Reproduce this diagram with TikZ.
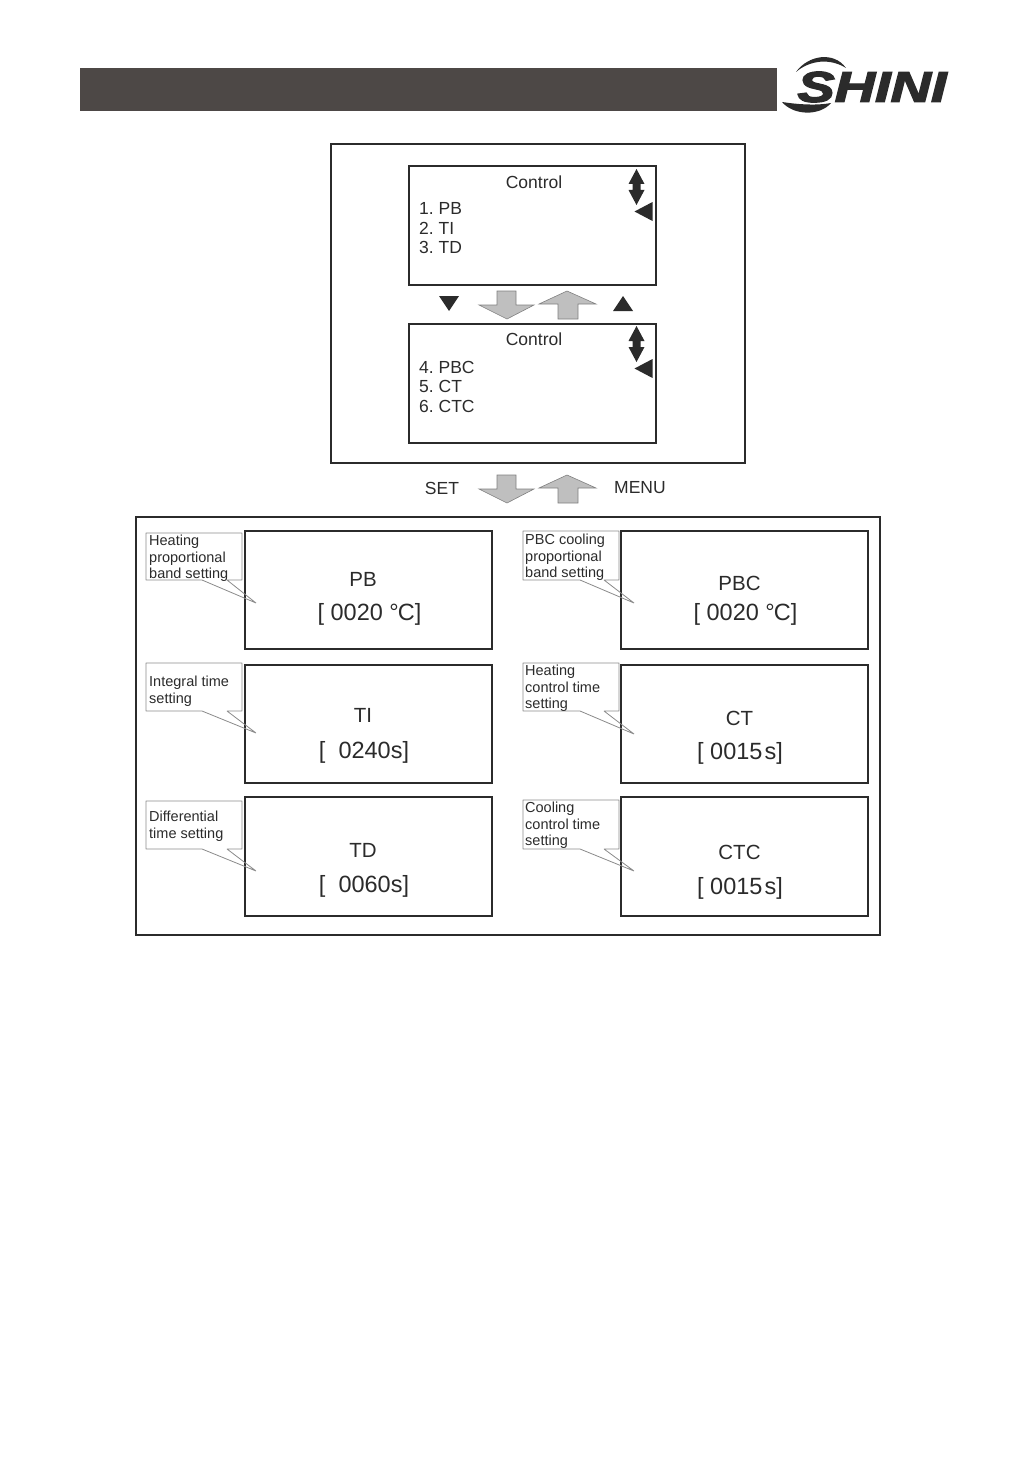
\documentclass[tikz,border=0pt]{standalone}
\usepackage{fontspec}
\setmainfont{Liberation Sans}
\newfontfamily\logofont{Liberation Sans}[UprightFont=* Bold Italic,FakeBold=3]
\frenchspacing
\definecolor{barcol}{HTML}{4D4846}
\definecolor{inkcol}{HTML}{2B2B2B}
\definecolor{arrowcol}{HTML}{BFBFBF}
\definecolor{calloutcol}{HTML}{8A8A8A}
\tikzset{
  frame/.style={draw=inkcol,line width=1.5pt},
  panel/.style={draw=inkcol,line width=1.3pt,fill=none},
  scrtext/.style={inner sep=0pt,text=inkcol,font=\fontsize{17.5}{19.5}\selectfont},
  bigtext/.style={inner sep=0pt,text=inkcol,font=\fontsize{20.5}{24}\selectfont},
  valtext/.style={inner sep=0pt,text=inkcol,font=\fontsize{23.5}{24}\selectfont},
  listtext/.style={scrtext,anchor=west,align=left},
  notetext/.style={inner sep=0pt,anchor=north west,align=left,text=inkcol,font=\fontsize{14.5}{16.5}\selectfont},
  noteline/.style={draw=calloutcol,line width=0.8pt,line join=bevel},
  blockarrow/.style={draw=gray,line width=0.6pt,fill=arrowcol},
  pics/downarrow/.style={code={
    \draw[blockarrow] (-10,-14) -- (9,-14) -- (9,0) -- (27,0) -- (0,14) -- (-28,0) -- (-10,0) -- cycle;
  }},
  pics/uparrow/.style={code={
    \draw[blockarrow] (-9,14) -- (11,14) -- (11,-1) -- (29,-1) -- (0,-14) -- (-28,-1) -- (-9,-1) -- cycle;
  }},
  pics/scrollmark/.style={code={
    \fill[inkcol] (0,0) -- (8,15) -- (4,15) -- (4,21) -- (8,21) -- (0,36) -- (-8,21) -- (-4,21) -- (-4,15) -- (-8,15) -- cycle;
    \fill[inkcol] (16,33) -- (-2,42.5) -- (16,52) -- cycle;
  }}
}
\begin{document}
\begin{tikzpicture}[x=1pt,y=-1pt]
  \useasboundingbox (0,0) rectangle (1032,1458);
  % header
  \fill[barcol] (80,68) rectangle (777,111);
  \node (logo) [inner sep=0pt,text=inkcol,xscale=1.3,font=\fontsize{43}{43}\logofont] at (872,87) {SHINI};
  \fill[inkcol] (796,72) .. controls (808,55) and (834,51) .. (846,68) .. controls (830,58) and (810,60) .. (796,72) -- cycle;
  \fill[inkcol] (782,102) .. controls (795,104) and (815,106) .. (831,103) .. controls (820,116) and (794,116) .. (782,102) -- cycle;
  % menu screens
  \draw[panel] (331,144) rectangle (745,463);
  \draw[frame] (409,166) rectangle (656,285);
  \draw[frame] (409,324) rectangle (656,443);
  \node (ctl1) [scrtext] at (534,182) {Control};
  \node (list1) [listtext] at (419,228.5) {1. PB\\2. TI\\3. TD};
  \pic at (636.5,169) {scrollmark};
  \node (ctl2) [scrtext] at (534,339) {Control};
  \node (list2) [listtext] at (419,386.5) {4. PBC\\5. CT\\6. CTC};
  \pic at (636.5,326) {scrollmark};
  % keys
  \fill[inkcol] (439,296) -- (459,296) -- (449,311) -- cycle;
  \fill[inkcol] (613,311) -- (633,311) -- (623,296) -- cycle;
  \pic at (507,305) {downarrow};
  \pic at (567,305) {uparrow};
  \node (setkey) [scrtext] at (442,488) {SET};
  \node (menukey) [scrtext] at (640,488) {MENU};
  \pic at (507,489) {downarrow};
  \pic at (567,489) {uparrow};
  % parameter screens
  \draw[panel] (136,517) rectangle (880,935);
  \draw[frame] (245,531) rectangle (492,649);
  \draw[frame] (245,665) rectangle (492,783);
  \draw[frame] (245,797) rectangle (492,916);
  \draw[frame] (621,531) rectangle (868,649);
  \draw[frame] (621,665) rectangle (868,783);
  \draw[frame] (621,797) rectangle (868,916);
  \node (pb) [bigtext] at (363,579) {PB};
  \node (pbval) [valtext] at (369.5,614.5) {[ 0020 °\kern-1pt C]};
  \node (ti) [bigtext] at (363,715) {TI};
  \node (tival) [valtext] at (364,752.5) {[ \ 0240s]};
  \node (td) [bigtext] at (363,850) {TD};
  \node (tdval) [valtext] at (364,886.5) {[ \ 0060s]};
  \node (pbc) [bigtext] at (739.5,583) {PBC};
  \node (pbcval) [valtext] at (745.5,614.5) {[ 0020 °\kern-1pt C]};
  \node (ct) [bigtext] at (739.5,718) {CT};
  \node (ctval) [valtext] at (740,753.5) {[ 0015\kern2pt s]};
  \node (ctc) [bigtext] at (739.5,852) {CTC};
  \node (ctcval) [valtext] at (740,888.5) {[ 0015\kern2pt s]};
  % callouts
  \draw[noteline] (146,533) -- (242,533) -- (242,580) -- (227,580) -- (256,603) -- (202,580) -- (146,580) -- cycle;
  \draw[noteline] (146,663) -- (242,663) -- (242,711) -- (227,711) -- (256,733) -- (202,711) -- (146,711) -- cycle;
  \draw[noteline] (146,801) -- (242,801) -- (242,849) -- (227,849) -- (256,871) -- (202,849) -- (146,849) -- cycle;
  \draw[noteline] (523,531) -- (619,531) -- (619,580) -- (604,580) -- (634,603) -- (580,580) -- (523,580) -- cycle;
  \draw[noteline] (523,663) -- (619,663) -- (619,711) -- (604,711) -- (634,734) -- (580,711) -- (523,711) -- cycle;
  \draw[noteline] (523,800) -- (619,800) -- (619,849) -- (604,849) -- (634,871) -- (580,849) -- (523,849) -- cycle;
  \node (note1) [notetext] at (149,535) {Heating\\proportional\\band setting};
  \node (note2) [notetext] at (149,676) {Integral time\\setting};
  \node (note3) [notetext] at (149,811) {Differential\\time setting};
  \node (note4) [notetext] at (525,534) {PBC cooling\\proportional\\band setting};
  \node (note5) [notetext] at (525,665) {Heating\\control time\\setting};
  \node (note6) [notetext] at (525,802) {Cooling\\control time\\setting};
\end{tikzpicture}
\end{document}
